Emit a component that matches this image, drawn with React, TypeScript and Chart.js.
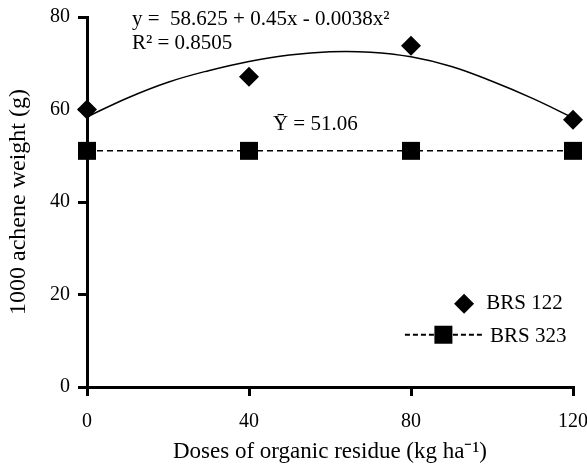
import React, { useEffect, useRef } from "react";
import { Chart, registerables } from "chart.js";

Chart.register(...registerables);

const doses = [0, 40, 80, 120];
const brs122 = [60, 67.1, 73.8, 57.8];
const brs323 = [51.06, 51.06, 51.06, 51.06];
const fitX = [0, 10, 20, 30, 40, 50, 60, 70, 80, 90, 100, 110, 120];
const fitY = [58.4, 62.5, 65.9, 68.4, 70.4, 71.8, 72.5, 72.4, 71.4, 69.3, 66.1, 62.4, 58.2];
const xTicks = [0, 40, 80, 120];
const yTicks = [0, 20, 40, 60, 80];
const seriesNames = ["BRS 122", "BRS 323"];
const eqText = "y =  58.625 + 0.45x - 0.0038x²";
const r2Text = "R² = 0.8505";
const meanText = "Ȳ = 51.06";

const FONT = "'Liberation Serif', 'Times New Roman', serif";

export default function App() {
  const ref = useRef<HTMLCanvasElement | null>(null);
  useEffect(() => {
    const canvas = ref.current;
    if (!canvas) return;
    const overlay = {
      id: "overlay",
      afterDraw(chart: any) {
        const ctx = chart.ctx;
        const xs = chart.scales.x;
        const ys = chart.scales.y;
        ctx.save();
        ctx.fillStyle = "#000";
        ctx.font = `21px ${FONT}`;
        ctx.textBaseline = "middle";
        ctx.textAlign = "left";
        const ax = xs.getPixelForValue(11.1);
        ctx.fillText(eqText, ax, ys.getPixelForValue(79.5));
        ctx.fillText(r2Text, ax, ys.getPixelForValue(74.3));
        ctx.fillText(meanText, xs.getPixelForValue(45.9), ys.getPixelForValue(56.7));
        // legend
        const ly1 = ys.getPixelForValue(18);
        const ly2 = ys.getPixelForValue(11.3);
        const dx = xs.getPixelForValue(93.1);
        const r = 10;
        ctx.beginPath();
        ctx.moveTo(dx - r, ly1);
        ctx.lineTo(dx, ly1 - r);
        ctx.lineTo(dx + r, ly1);
        ctx.lineTo(dx, ly1 + r);
        ctx.closePath();
        ctx.fill();
        ctx.fillText(seriesNames[0], xs.getPixelForValue(98.6), ly1);
        ctx.strokeStyle = "#000";
        ctx.lineWidth = 2;
        ctx.setLineDash([5, 3]);
        ctx.beginPath();
        ctx.moveTo(xs.getPixelForValue(78.5), ly2);
        ctx.lineTo(xs.getPixelForValue(97.5), ly2);
        ctx.stroke();
        ctx.setLineDash([]);
        const sx = xs.getPixelForValue(88);
        ctx.fillRect(sx - 9, ly2 - 9, 18, 18);
        ctx.fillText(seriesNames[1], xs.getPixelForValue(99.5), ly2 + 2);
        ctx.restore();
      },
    };
    const chart = new Chart(canvas, {
      type: "line",
      data: {
        datasets: [
          {
            label: "fit",
            data: fitX.map((x, i) => ({ x, y: fitY[i] })),
            borderColor: "#000",
            borderWidth: 1.5,
            pointRadius: 0,
            tension: 0.4,
            fill: false,
            clip: false as any,
          },
          {
            label: seriesNames[1],
            data: doses.map((x, i) => ({ x, y: brs323[i] })),
            borderColor: "#000",
            backgroundColor: "#000",
            borderWidth: 1.5,
            borderDash: [6, 4],
            pointStyle: "rect",
            pointRadius: 12.7,
            pointBackgroundColor: "#000",
            pointBorderColor: "#000",
            pointBorderWidth: 0,
            fill: false,
            clip: false as any,
          },
          {
            label: seriesNames[0],
            data: doses.map((x, i) => ({ x, y: brs122[i] })),
            showLine: false,
            pointStyle: "rectRot",
            pointRadius: 10,
            pointBackgroundColor: "#000",
            pointBorderColor: "#000",
            pointBorderWidth: 0,
            clip: false as any,
          },
        ],
      },
      options: {
        animation: false,
        responsive: false,
        layout: { padding: { top: 17, right: 14, left: 0, bottom: 0 } },
        plugins: {
          legend: { display: false },
          tooltip: { enabled: false },
        },
        scales: {
          x: {
            type: "linear",
            min: 0,
            max: 120,
            afterBuildTicks: (s: any) => {
              s.ticks = xTicks.map((v) => ({ value: v }));
            },
            afterFit: (s: any) => {
              s.height = 83;
              s.paddingRight = 0;
              s.paddingLeft = 0;
            },
            border: { display: true, color: "#000", width: 3 },
            grid: { drawOnChartArea: false, drawTicks: true, tickLength: 9, color: "#000", lineWidth: 3 },
            ticks: { color: "#000", font: { family: FONT, size: 20 }, padding: 14, maxRotation: 0 },
            title: {
              display: true,
              text: "Doses of organic residue (kg ha⁻¹)",
              color: "#000",
              font: { family: FONT, size: 23 },
              padding: { top: 0, bottom: 4 },
            },
          },
          y: {
            type: "linear",
            min: 0,
            max: 80,
            afterBuildTicks: (s: any) => {
              s.ticks = yTicks.map((v) => ({ value: v }));
            },
            afterFit: (s: any) => {
              s.width = 87;
              s.paddingTop = 0;
              s.paddingBottom = 0;
            },
            border: { display: true, color: "#000", width: 3 },
            grid: { drawOnChartArea: false, drawTicks: true, tickLength: 9, color: "#000", lineWidth: 3 },
            ticks: { color: "#000", font: { family: FONT, size: 20 }, padding: 8 },
            title: {
              display: true,
              text: "1000 achene weight (g)",
              color: "#000",
              font: { family: FONT, size: 24 },
              padding: { top: 4, bottom: 0 },
            },
          },
        },
      },
      plugins: [overlay],
    } as any);
    return () => chart.destroy();
  }, []);
  return (
    <div style={{ position: "fixed", left: 0, top: 0, width: 587, height: 470, background: "#fff" }}>
      <canvas ref={ref} width={587} height={470} style={{ width: 587, height: 470, display: "block" }} />
    </div>
  );
}
